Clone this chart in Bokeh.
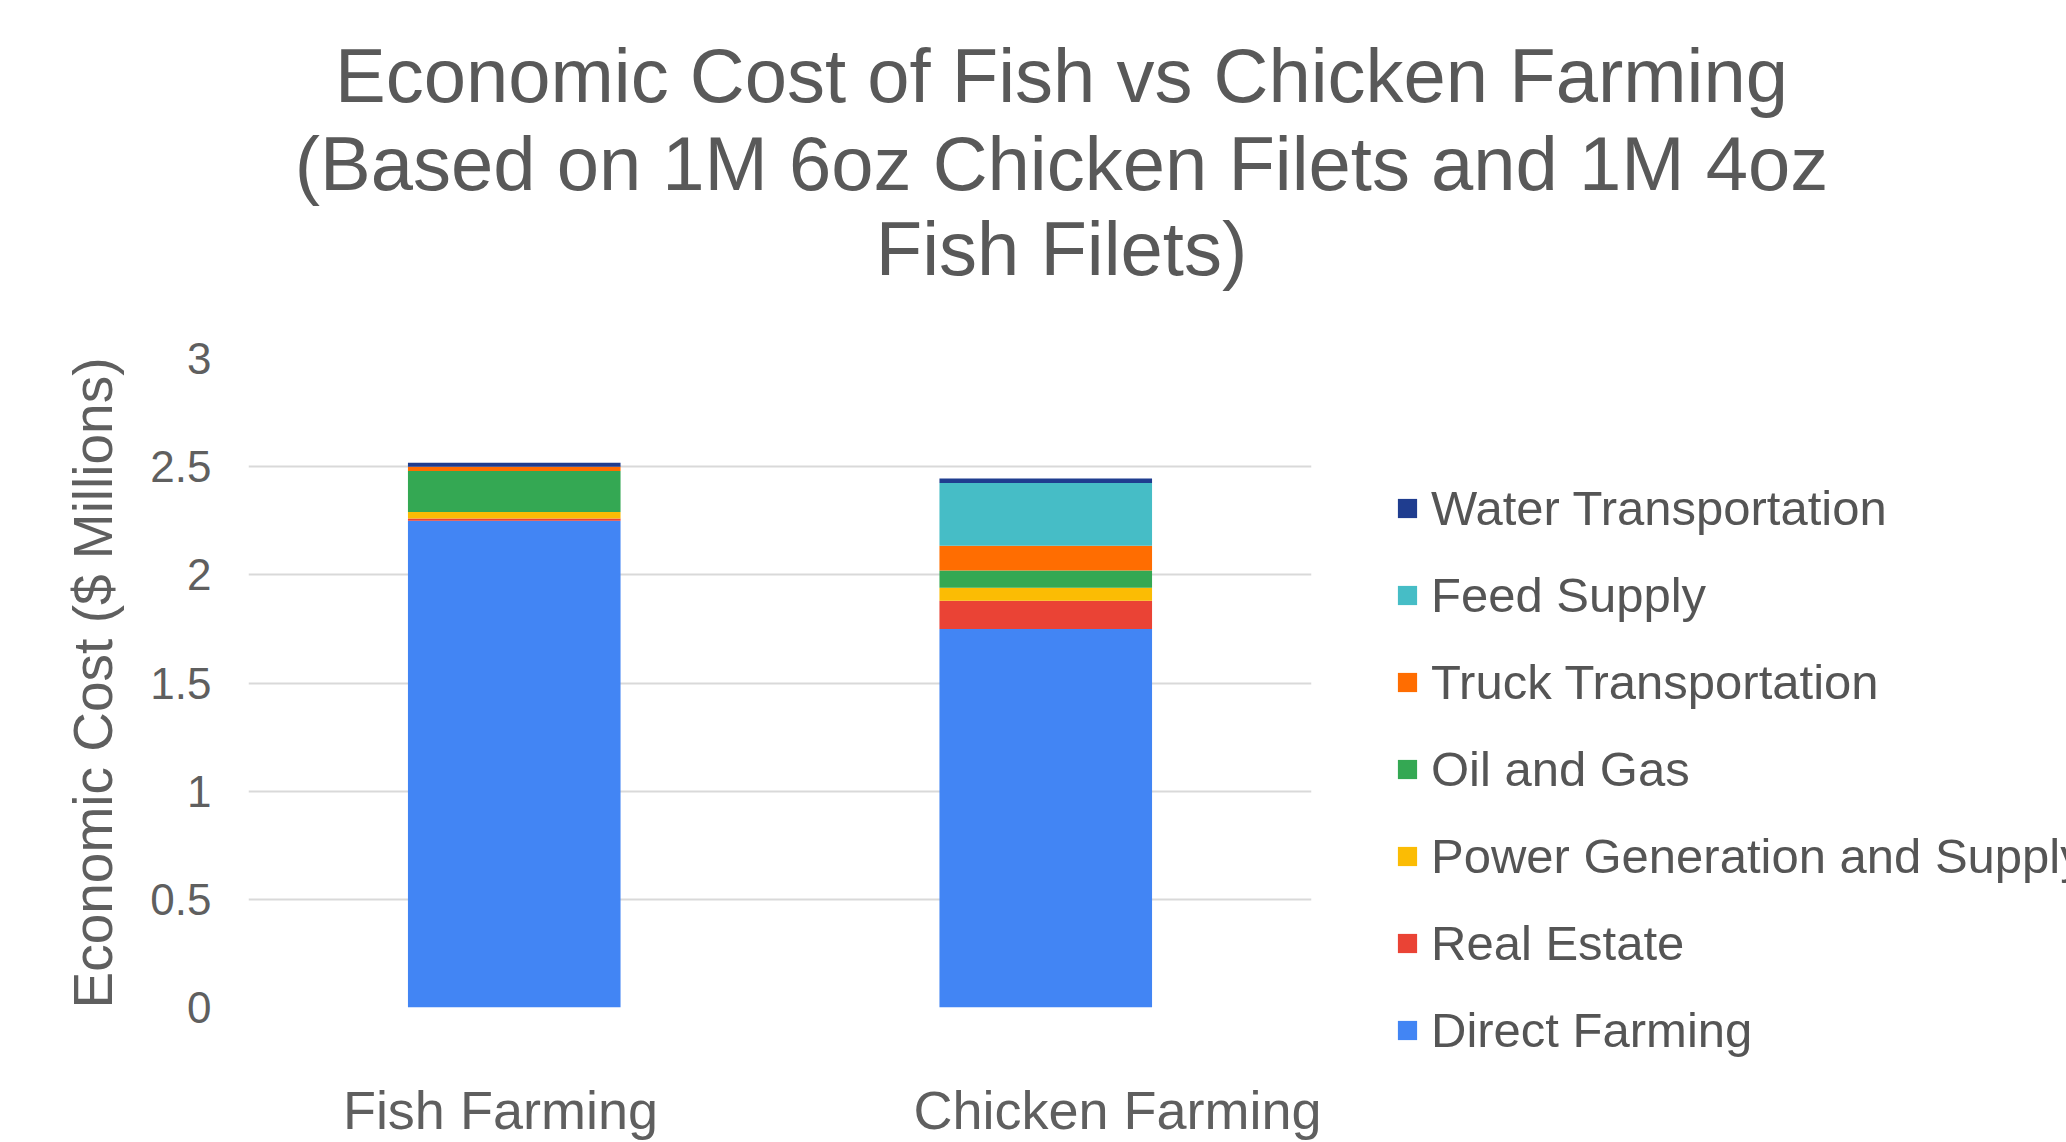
from bokeh.plotting import figure
from bokeh.layouts import column, row
from bokeh.models import Legend, LegendItem, FixedTicker, Range1d, ColumnDataSource
from bokeh.core.properties import value
from bokeh.embed import file_html
from bokeh.resources import INLINE

categories = ["Fish Farming", "Chicken Farming"]
series = ["Direct Farming", "Real Estate", "Power Generation and Supply",
          "Oil and Gas", "Truck Transportation", "Feed Supply", "Water Transportation"]
direct_farming = [2.25, 1.75]
real_estate = [0.01, 0.13]
power_generation = [0.03, 0.06]
oil_and_gas = [0.19, 0.08]
truck_transportation = [0.02, 0.115]
feed_supply = [0.0, 0.29]
water_transportation = [0.018, 0.02]
colors = ["#4285f4", "#ea4335", "#fbbc04", "#34a853", "#ff6d01", "#46bdc6", "#1f3d8f"]
y_ticks = [0, 0.5, 1, 1.5, 2, 2.5, 3]
title_lines = ["Economic Cost of Fish vs Chicken Farming",
               "(Based on 1M 6oz Chicken Filets and 1M 4oz",
               "Fish Filets)"]
y_label = "Economic Cost ($ Millions)"

FONT = "Liberation Sans"
TOTAL_W, TITLE_H, MAIN_H, MAIN_W = 2066, 300, 842, 1326
LABEL_SHIFT = [-0.026, 0.135]   # category label placement offsets (layout only)

# ---------- title strip ----------
tf = figure(width=TOTAL_W, height=TITLE_H, x_range=Range1d(0, TOTAL_W), y_range=Range1d(TITLE_H, 0),
            x_axis_type=None, y_axis_type=None, output_backend="svg", toolbar_location=None,
            min_border=0)
tf.title = None
tf.grid.visible = False
tf.outline_line_color = None
tf.text(x=[1061, 1061, 1061], y=[75, 163, 248], text=title_lines,
        text_align="center", text_baseline="middle",
        text_font=value(FONT), text_font_size="76px", text_color="#595959")

# ---------- main chart ----------
x_pos = [i + 0.5 for i in range(len(categories))]
src = ColumnDataSource(data={
    "x": x_pos,
    series[0]: direct_farming,
    series[1]: real_estate,
    series[2]: power_generation,
    series[3]: oil_and_gas,
    series[4]: truck_transportation,
    series[5]: feed_supply,
    series[6]: water_transportation,
})

p = figure(x_range=Range1d(0, len(categories)), y_range=Range1d(0, 3), width=MAIN_W, height=MAIN_H,
           output_backend="svg", toolbar_location=None,
           min_border_left=248, min_border_right=MAIN_W - 248 - 1063,
           min_border_top=58, min_border_bottom=134)
p.title = None
p.outline_line_color = None

renderers = p.vbar_stack(series, x="x", width=0.4, color=colors, line_color=None, source=src)

p.yaxis.ticker = FixedTicker(ticks=y_ticks)
p.yaxis.axis_line_color = None
p.yaxis.major_tick_line_color = None
p.yaxis.minor_tick_line_color = None
p.yaxis.major_tick_out = 0
p.yaxis.major_tick_in = 0
p.yaxis.minor_tick_out = 0
p.yaxis.major_label_text_font = FONT
p.yaxis.major_label_text_font_size = "44px"
p.yaxis.major_label_text_color = "#5f5f5f"
p.yaxis.major_label_standoff = 37
p.yaxis.axis_label = y_label
p.yaxis.axis_label_text_font = FONT
p.yaxis.axis_label_text_font_size = "55px"
p.yaxis.axis_label_text_font_style = "normal"
p.yaxis.axis_label_text_color = "#5f5f5f"
p.yaxis.axis_label_standoff = 23

label_pos = [round(x + s, 3) for x, s in zip(x_pos, LABEL_SHIFT)]
p.xaxis.ticker = FixedTicker(ticks=label_pos)
p.xaxis.major_label_overrides = {lp: c for lp, c in zip(label_pos, categories)}
p.xaxis.axis_line_color = None
p.xaxis.major_tick_line_color = None
p.xaxis.minor_tick_line_color = None
p.xaxis.major_tick_out = 0
p.xaxis.major_tick_in = 0
p.xaxis.minor_tick_out = 0
p.xaxis.major_label_text_font = FONT
p.xaxis.major_label_text_font_size = "54px"
p.xaxis.major_label_text_color = "#5f5f5f"
p.xaxis.major_label_standoff = 72

p.xgrid.grid_line_color = None
p.ygrid.grid_line_color = "#d9d9d9"
p.ygrid.grid_line_width = 2

# ---------- legend strip ----------
lf = figure(width=TOTAL_W - MAIN_W, height=MAIN_H, x_range=Range1d(0, 1), y_range=Range1d(0, 1),
            x_axis_type=None, y_axis_type=None, output_backend="svg", toolbar_location=None,
            min_border=0)
lf.title = None
lf.grid.visible = False
lf.outline_line_color = None
# swatch renderers kept outside the visible range; only their legend glyphs show
swatches = [lf.vbar(x=[-5], top=[-4], bottom=[-5], width=0.5, fill_color=c, line_color=None)
            for c in colors]
items = [LegendItem(label=s, renderers=[r]) for s, r in zip(series, swatches)][::-1]
legend = Legend(items=items, location=(1395 - MAIN_W, -51), orientation="vertical",
                label_text_font=FONT, label_text_font_size="49px", label_text_color="#555555",
                glyph_width=24, glyph_height=24, label_height=56, spacing=31,
                label_standoff=12, padding=0, margin=0,
                border_line_alpha=0, background_fill_alpha=0)
lf.add_layout(legend, "left")

layout = column(tf, row(p, lf))
open("out.html", "w").write(file_html(layout, INLINE))
